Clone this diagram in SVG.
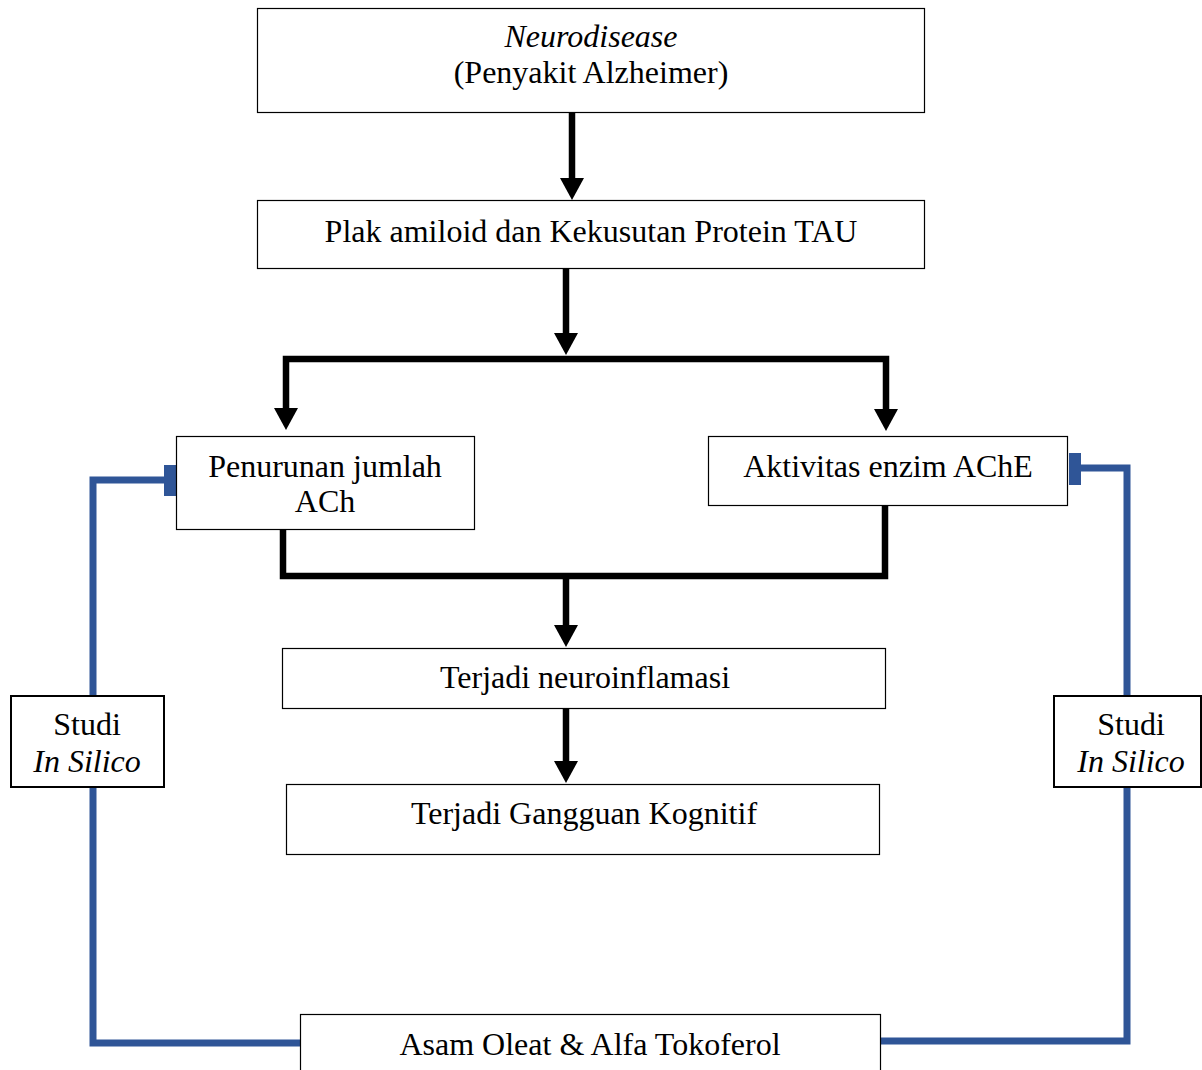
<svg xmlns="http://www.w3.org/2000/svg" width="1202" height="1070" viewBox="0 0 1202 1070">
<style>
.box{fill:#fff;stroke:#000;stroke-width:1.2}
.sbox{fill:#fff;stroke:#000;stroke-width:2}
.t{font-family:"Liberation Serif","Times New Roman",serif;font-size:32px;fill:#000;text-anchor:middle}
.i{font-style:italic}
.arr{fill:none;stroke:#000;stroke-width:6.5;stroke-linejoin:miter}
.blue{fill:none;stroke:#2F5597;stroke-width:7;stroke-linejoin:miter}
.tee{fill:#2F5597}
</style>
<defs>
<marker id="ah" viewBox="0 0 22 24" markerWidth="22" markerHeight="24" markerUnits="userSpaceOnUse" refX="0" refY="12" orient="auto">
<path d="M0,0 L22,12 L0,24 z" fill="#000"/>
</marker>
</defs>
<rect width="1202" height="1070" fill="#fff"/>
<g id="connectors">
<path class="blue" d="M164,480 H93 V1043 H300"/>
<path class="blue" d="M1081,468 H1127 V1041 H880"/>
<rect class="tee" x="164" y="465" width="12" height="31"/>
<rect class="tee" x="1069" y="453" width="12" height="32"/>
<path class="arr" d="M572,113 V178" marker-end="url(#ah)"/>
<path class="arr" d="M566,268 V333" marker-end="url(#ah)"/>
<path class="arr" d="M566,359 H286 V408" marker-end="url(#ah)"/>
<path class="arr" d="M566,359 H886 V409" marker-end="url(#ah)"/>
<path class="arr" d="M283,530 V576 H885 V506"/>
<path class="arr" d="M566,576 V625" marker-end="url(#ah)"/>
<path class="arr" d="M566,708 V761" marker-end="url(#ah)"/>
</g>
<g id="n-neurodisease">
<rect class="box" x="257.5" y="8.5" width="667" height="104"/>
<text class="t i" x="591" y="47">Neurodisease</text>
<text class="t" x="591" y="83">(Penyakit Alzheimer)</text>
</g>
<g id="n-plak">
<rect class="box" x="257.5" y="200.5" width="667" height="68"/>
<text class="t" x="591" y="242">Plak amiloid dan Kekusutan Protein TAU</text>
</g>
<g id="n-penurunan">
<rect class="box" x="176.5" y="436.5" width="298" height="93"/>
<text class="t" x="325" y="477">Penurunan jumlah</text>
<text class="t" x="325" y="512">ACh</text>
</g>
<g id="n-ache">
<rect class="box" x="708.5" y="436.5" width="359" height="69"/>
<text class="t" x="888" y="477">Aktivitas enzim AChE</text>
</g>
<g id="n-neuroinflamasi">
<rect class="box" x="282.5" y="648.5" width="603" height="60"/>
<text class="t" x="585" y="688">Terjadi neuroinflamasi</text>
</g>
<g id="n-kognitif">
<rect class="box" x="286.5" y="784.5" width="593" height="70"/>
<text class="t" x="584" y="824">Terjadi Gangguan Kognitif</text>
</g>
<g id="n-studi-left">
<rect class="sbox" x="11" y="696" width="153" height="91"/>
<text class="t" x="87" y="735">Studi</text>
<text class="t i" x="87" y="772">In Silico</text>
</g>
<g id="n-studi-right">
<rect class="sbox" x="1054" y="696" width="147" height="91"/>
<text class="t" x="1131" y="735">Studi</text>
<text class="t i" x="1131" y="772">In Silico</text>
</g>
<g id="n-asam">
<rect class="box" x="300.5" y="1014.5" width="580" height="70"/>
<text class="t" x="590" y="1055">Asam Oleat &amp; Alfa Tokoferol</text>
</g>
</svg>
